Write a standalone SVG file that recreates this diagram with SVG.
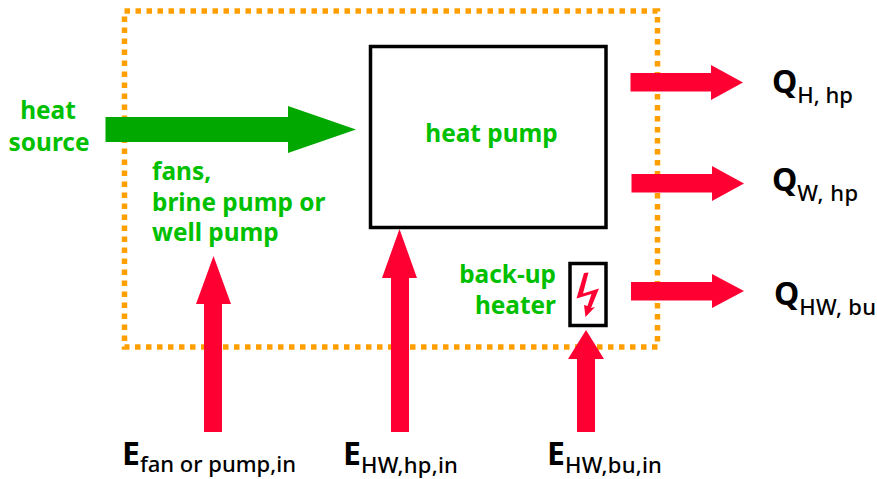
<svg xmlns="http://www.w3.org/2000/svg" width="877" height="479" viewBox="0 0 877 479">
<style>
.g{font:bold 24.4px "Noto Sans","Open Sans",sans-serif;fill:#00c000}
.b{font:bold 32px "Noto Sans","Open Sans",sans-serif;fill:#000}
.s{font:500 22px "Noto Sans","Open Sans",sans-serif;fill:#000}
.r{fill:#ff0033}
.box{fill:none;stroke:#000;stroke-width:3.5}
</style>
<rect width="877" height="479" fill="#fff"/>
<g id="boundary"><rect x="124.5" y="11" width="533" height="336" fill="none" stroke="#ffa000" stroke-width="5.5" stroke-dasharray="5.5 5.5"/></g>
<g id="connectors">
<polygon fill="#00a800" points="105.5,117 288,117 288,106 356,129.5 288,153 288,142 105.5,142"/>
<polygon class="r" points="630.5,73 711,73 711,65 743,82.5 711,100 711,91.500 630.5,91.500"/>
<polygon class="r" points="631.5,174 712,174 712,166 744,183.5 712,201 712,192.500 631.5,192.500"/>
<polygon class="r" points="631,282 712,282 712,274 744,291 712,308 712,300.500 631,300.500"/>
<polygon class="r" points="204,432 204,304 196,304 213.500,256 231,304 222,304 222,432"/>
<polygon class="r" points="391,432 391,278 382,278 399.500,229 417,278 409,278 409,432"/>
<polygon class="r" points="577,432 577,359 568,359 586,330 604,359 595,359 595,432"/>
</g>
<g id="heat-pump"><rect class="box" x="370.500" y="46.500" width="235.500" height="181"/><text class="g" x="491.500" y="142" text-anchor="middle">heat pump</text></g>
<g id="back-up-heater"><rect class="box" x="570" y="263.500" width="36" height="62"/>
<polygon class="r" points="588.500,272.500 584,273 576.500,298.500 591.500,294 587.500,306 584,305 585.500,317 595,307 591,308 599,288.500 583,293.500"/>
<text class="g" x="556" y="283" text-anchor="end">back-up</text><text class="g" x="556" y="314" text-anchor="end">heater</text></g>
<g id="heat-source"><text class="g" x="48" y="119" text-anchor="middle">heat</text><text class="g" x="49" y="151" text-anchor="middle">source</text></g>
<g id="fans"><text class="g" x="152" y="180">fans,</text><text class="g" x="152" y="211">brine pump or</text><text class="g" x="152" y="241">well pump</text></g>
<g id="q-h"><text x="772" y="93"><tspan class="b">Q</tspan><tspan class="s" dy="10">H, hp</tspan></text></g>
<g id="q-w"><text x="772" y="191"><tspan class="b">Q</tspan><tspan class="s" dy="10" letter-spacing=".5">W, hp</tspan></text></g>
<g id="q-hw"><text x="774" y="305"><tspan class="b">Q</tspan><tspan class="s" dy="10" letter-spacing=".3">HW, bu</tspan></text></g>
<g id="e-fan"><text x="122" y="465"><tspan class="b">E</tspan><tspan class="s" dy="7">fan or pump,in</tspan></text></g>
<g id="e-hp"><text x="343" y="465"><tspan class="b">E</tspan><tspan class="s" dy="8" letter-spacing=".25">HW,hp,in</tspan></text></g>
<g id="e-bu"><text x="547" y="465"><tspan class="b">E</tspan><tspan class="s" dy="8" letter-spacing=".25">HW,bu,in</tspan></text></g>
</svg>
